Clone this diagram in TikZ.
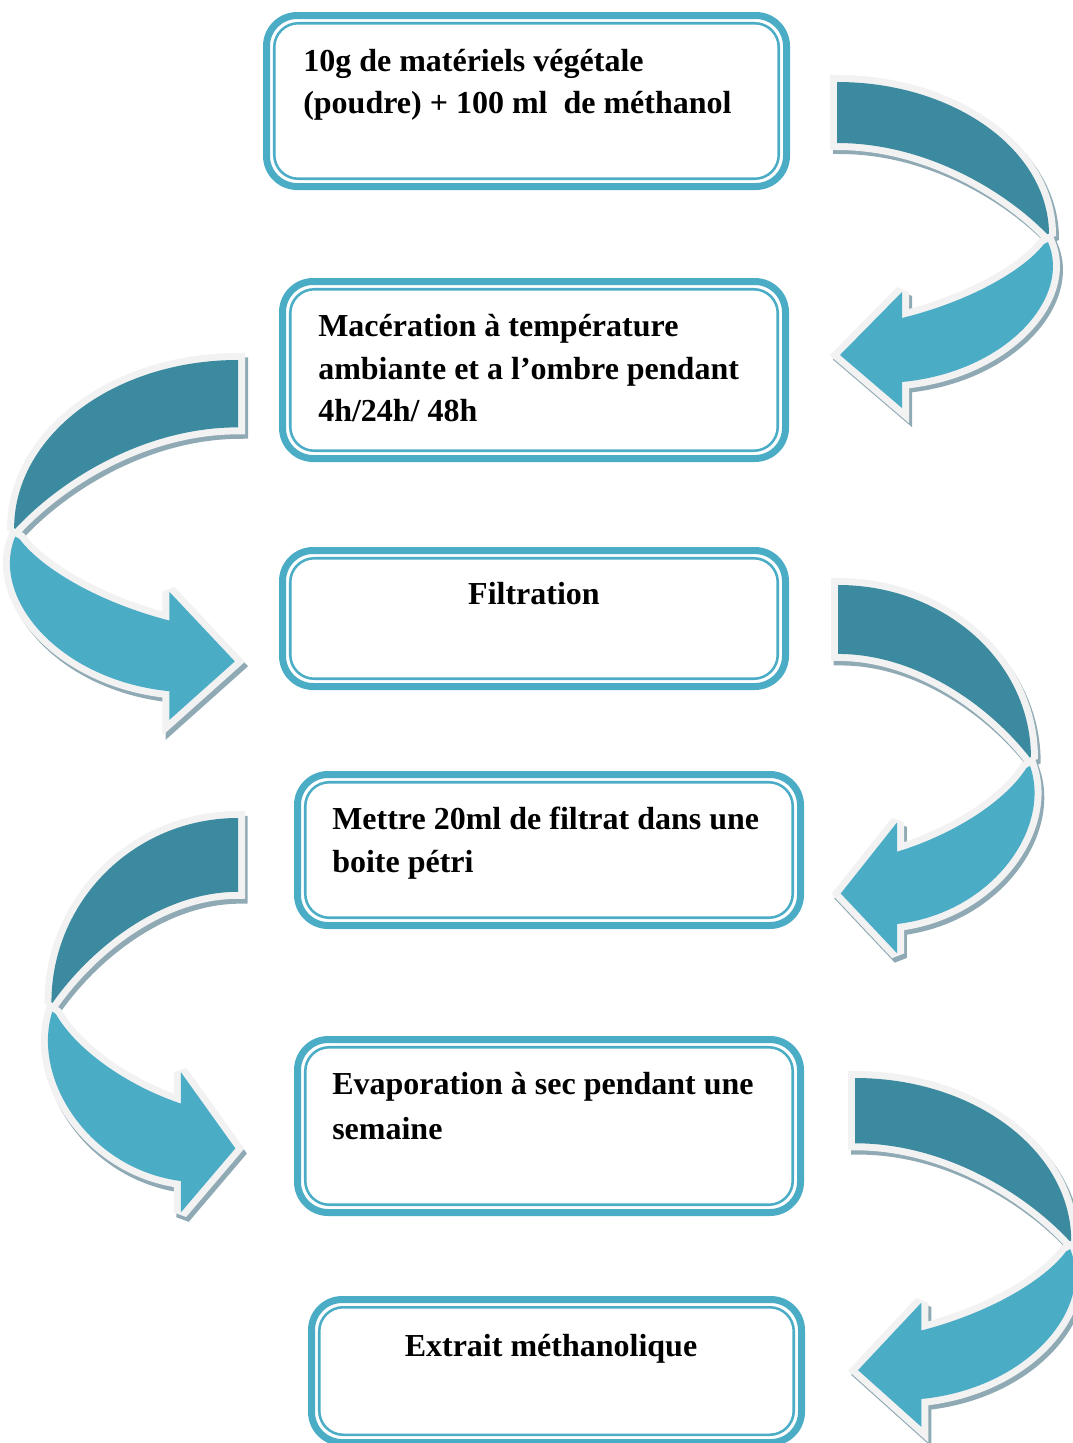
\documentclass[tikz,border=0pt]{standalone}
\usepackage{fontspec}
\setmainfont{Liberation Serif}
\definecolor{boxblue}{HTML}{4BACC6}
\definecolor{ribbondark}{HTML}{3C8A9F}
\definecolor{ribbonlight}{HTML}{4BACC6}
\definecolor{rimwhite}{HTML}{F2F2F2}
\definecolor{shadegray}{HTML}{8FAAB4}
% ribbon outlines, local frame: tail top-left at the origin, y grows downwards
\newcommand{\curlback}{(0,0) .. controls (118,0) and (213,69) .. (212,154)
  .. controls (170,110) and (90,61) .. (0,61) -- cycle}
\newcommand{\curlfront}{(211,160) .. controls (235,215) and (170,290) .. (65,300)
  -- (65,326) -- (3,273) -- (65,210) -- (65,236)
  .. controls (130,220) and (185,190) .. (207,162) -- cycle}
\tikzset{
  every picture/.style={line join=miter, miter limit=2.5},
  stepframe/.style={draw=boxblue, line width=5.25pt, rounded corners=23pt},
  stepline/.style={draw=boxblue, line width=1.9pt, rounded corners=18pt},
  steptext/.style={inner sep=0pt, align=left,
    font=\fontsize{24}{31.9}\selectfont\bfseries, execute at begin node=\strut},
  curlrim/.style={draw=rimwhite, line width=10.5pt},
  curlshade/.style={fill=shadegray, draw=shadegray, line width=10.5pt},
  % curled ribbon arrow; #1 = x offset of the shadow (negative when mirrored)
  pics/curlarrow/.style={code={
    \begin{scope}[shift={(#1,4)}]
      \path[curlshade] \curlback;
      \path[curlshade] \curlfront;
    \end{scope}
    % back face first, then the front face with the head on top
    \path[curlrim] \curlback;
    \fill[ribbondark] \curlback;
    \path[curlrim] \curlfront;
    \fill[ribbonlight] \curlfront;
  }},
}

\begin{document}
\begin{tikzpicture}[x=0.75pt, y=-0.75pt]
  \useasboundingbox (0,0) rectangle (1073,1443);
  % step boxes: thick frame with a thin line inside
  \foreach \xa/\ya/\xb/\yb in {266.5/15.5/786.5/186.5, 282.5/281.5/785.5/458.5,
      282.5/550.5/785.5/686.5, 297.5/774.5/800.5/925.5,
      297.5/1039.5/800.5/1212.5, 311.5/1299.5/801.5/1442.5} {
    \draw[stepframe] (\xa,\ya) rectangle (\xb,\yb);
    \draw[stepline] (\xa+7.75,\ya+7.75) rectangle (\xb-7.75,\yb-7.75);
  }
  \node[steptext, anchor=north west] (mix) at (303,48.5)
    {10g de matériels végétale\\(poudre) + 100 ml\ \ de méthanol};
  \node[steptext, anchor=north west] (macer) at (318,314)
    {Macération à température\\ambiante et a l’ombre pendant\\4h/24h/ 48h};
  \node[steptext, anchor=north] (filt) at (534,574.5) {Filtration};
  \node[steptext, anchor=north west] (petri) at (332,807)
    {Mettre 20ml de filtrat dans une\\boite pétri};
  \node[steptext, anchor=north west] (evap) at (332,1072)
    {Evaporation à sec pendant une\\[1.5pt]semaine};
  \node[steptext, anchor=north] (extr) at (551,1326.5) {Extrait méthanolique};
  % curled arrows, alternating right and left
  \pic[shift={(837,82)}] {curlarrow=3};
  \pic[shift={(238,360)}, xscale=-1.056, yscale=1.104] {curlarrow=-3};
  \pic[shift={(838,585)}, xscale=0.91, yscale=1.13] {curlarrow=3};
  \pic[shift={(238,818)}, xscale=-0.88, yscale=1.21] {curlarrow=-3};
  \pic[shift={(855,1078)}, xscale=1.02, yscale=1.07] {curlarrow=3};
\end{tikzpicture}
\end{document}
